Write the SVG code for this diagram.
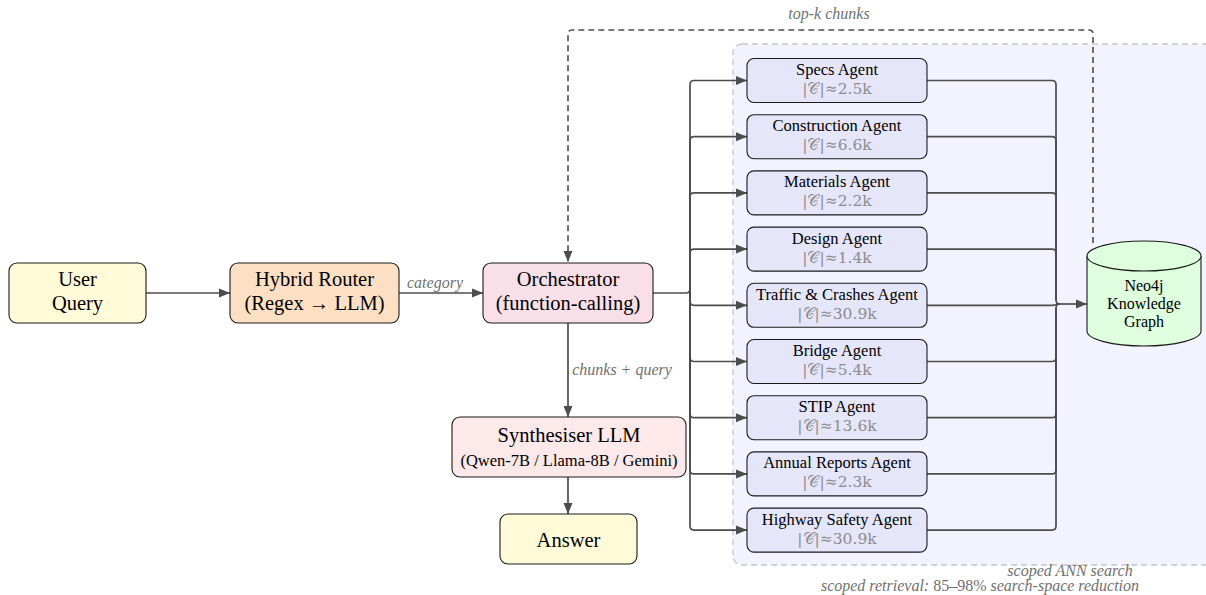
<svg xmlns="http://www.w3.org/2000/svg" width="1206" height="595" viewBox="0 0 1206 595">
<style>
.box{stroke:#1a1a1a;stroke-width:1.1}
.t{font-family:"Liberation Serif","Times New Roman",serif;fill:#000;text-anchor:middle}
.big{font-size:20.5px}
.agent{font-size:16.5px}
.sub{font-family:"DejaVu Serif","Liberation Serif",serif;font-size:15.5px;fill:#8c8c8c;text-anchor:middle}
.lbl{font-family:"Liberation Serif","Times New Roman",serif;font-style:italic;font-size:16px;fill:#707070;text-anchor:middle}
.conn{fill:none;stroke:#4d4d4d;stroke-width:1.7}
.dash{fill:none;stroke:#4d4d4d;stroke-width:1.6;stroke-dasharray:6,4}
.ag{fill:#e6e6fb}
</style>
<defs>
<marker id="ah" markerUnits="userSpaceOnUse" markerWidth="12" markerHeight="10" refX="11" refY="5" orient="auto">
<path d="M0,0.5 L11,5 L0,9.5 z" fill="#4d4d4d"/>
</marker>
</defs>

<g id="region">
<rect x="733" y="44" width="490" height="521" rx="9" fill="#f3f3ff" stroke="#c8c8c8" stroke-width="1.3" stroke-dasharray="6,4"/>
<text class="lbl" x="1070" y="576" font-size="15">scoped ANN search</text>
<text class="lbl" x="980" y="591" font-size="15">scoped retrieval: <tspan font-style="normal">85–98%</tspan> search-space reduction</text>
</g>

<g id="connectors">
<path class="conn" d="M146,293 H230" marker-end="url(#ah)"/>
<path class="conn" d="M399,293 H483" marker-end="url(#ah)"/>
<text class="lbl" x="435" y="288">category</text>
<path class="conn" d="M568,323 V417" marker-end="url(#ah)"/>
<text class="lbl" x="622" y="375">chunks + query</text>
<path class="conn" d="M568,477 V514" marker-end="url(#ah)"/>
<path class="conn" d="M653,293 H686 Q690,293 690,289"/>
<path class="conn" d="M690,293 V84.5 Q690,80.5 694,80.5 H747" marker-end="url(#ah)"/>
<path class="conn" d="M690,293 V140.7 Q690,136.7 694,136.7 H747" marker-end="url(#ah)"/>
<path class="conn" d="M690,293 V196.9 Q690,192.9 694,192.9 H747" marker-end="url(#ah)"/>
<path class="conn" d="M690,293 V253.1 Q690,249.1 694,249.1 H747" marker-end="url(#ah)"/>
<path class="conn" d="M690,293 V301.3 Q690,305.3 694,305.3 H747" marker-end="url(#ah)"/>
<path class="conn" d="M690,293 V357.5 Q690,361.5 694,361.5 H747" marker-end="url(#ah)"/>
<path class="conn" d="M690,293 V413.7 Q690,417.7 694,417.7 H747" marker-end="url(#ah)"/>
<path class="conn" d="M690,293 V469.9 Q690,473.9 694,473.9 H747" marker-end="url(#ah)"/>
<path class="conn" d="M690,293 V526.1 Q690,530.1 694,530.1 H747" marker-end="url(#ah)"/>
<path class="conn" d="M927,80.5 H1052 Q1056,80.5 1056,84.5 V300 Q1056,304 1060,304"/>
<path class="conn" d="M927,136.7 H1052 Q1056,136.7 1056,140.7 V300"/>
<path class="conn" d="M927,192.9 H1052 Q1056,192.9 1056,196.9 V300"/>
<path class="conn" d="M927,249.1 H1052 Q1056,249.1 1056,253.1 V300"/>
<path class="conn" d="M927,305.3 H1052 Q1056,305.3 1056,304"/>
<path class="conn" d="M927,361.5 H1052 Q1056,361.5 1056,357.5 V308 Q1056,304 1060,304"/>
<path class="conn" d="M927,417.7 H1052 Q1056,417.7 1056,413.7 V308"/>
<path class="conn" d="M927,473.9 H1052 Q1056,473.9 1056,469.9 V308"/>
<path class="conn" d="M927,530.1 H1052 Q1056,530.1 1056,526.1 V308"/>
<path class="conn" d="M1056,304 H1087" marker-end="url(#ah)"/>
<path class="dash" d="M1093,243 V34 Q1093,30 1089,30 H572 Q568,30 568,34 V262" marker-end="url(#ah)"/>
<text class="lbl" x="829" y="19">top-k chunks</text>
</g>

<g id="user-query">
<rect class="box" x="9" y="263" width="137" height="60" rx="8" fill="#fffbd8"/>
<text class="t big" x="77.5" y="286">User</text>
<text class="t big" x="77.5" y="310">Query</text>
</g>
<g id="hybrid-router">
<rect class="box" x="230" y="263" width="169" height="60" rx="8" fill="#fde0c4"/>
<text class="t big" x="314.5" y="286">Hybrid Router</text>
<text class="t big" x="314.5" y="310">(Regex → LLM)</text>
</g>
<g id="orchestrator">
<rect class="box" x="483" y="263" width="170" height="60" rx="8" fill="#f8dfe8"/>
<text class="t big" x="568" y="286">Orchestrator</text>
<text class="t big" x="568" y="310">(function-calling)</text>
</g>
<g id="synthesiser">
<rect class="box" x="452" y="417" width="234" height="60" rx="8" fill="#fde8ea"/>
<text class="t big" x="569" y="442">Synthesiser LLM</text>
<text class="t" font-size="16.5" x="569" y="466">(Qwen-7B / Llama-8B / Gemini)</text>
</g>
<g id="answer">
<rect class="box" x="500" y="514" width="137" height="50" rx="8" fill="#fffbd8"/>
<text class="t big" x="568.5" y="547">Answer</text>
</g>

<g id="agent-specs">
<rect class="box ag" x="747" y="58.5" width="180" height="44" rx="7"/>
<text class="t agent" x="837" y="75">Specs Agent</text>
<text class="sub" x="837" y="94">|𝒞|≈2.5k</text>
</g>
<g id="agent-construction">
<rect class="box ag" x="747" y="114.7" width="180" height="44" rx="7"/>
<text class="t agent" x="837" y="131.2">Construction Agent</text>
<text class="sub" x="837" y="150.2">|𝒞|≈6.6k</text>
</g>
<g id="agent-materials">
<rect class="box ag" x="747" y="170.9" width="180" height="44" rx="7"/>
<text class="t agent" x="837" y="187.4">Materials Agent</text>
<text class="sub" x="837" y="206.4">|𝒞|≈2.2k</text>
</g>
<g id="agent-design">
<rect class="box ag" x="747" y="227.1" width="180" height="44" rx="7"/>
<text class="t agent" x="837" y="243.6">Design Agent</text>
<text class="sub" x="837" y="262.6">|𝒞|≈1.4k</text>
</g>
<g id="agent-traffic">
<rect class="box ag" x="747" y="283.3" width="180" height="44" rx="7"/>
<text class="t agent" x="837" y="299.8">Traffic &amp; Crashes Agent</text>
<text class="sub" x="837" y="318.8">|𝒞|≈30.9k</text>
</g>
<g id="agent-bridge">
<rect class="box ag" x="747" y="339.5" width="180" height="44" rx="7"/>
<text class="t agent" x="837" y="356">Bridge Agent</text>
<text class="sub" x="837" y="375">|𝒞|≈5.4k</text>
</g>
<g id="agent-stip">
<rect class="box ag" x="747" y="395.7" width="180" height="44" rx="7"/>
<text class="t agent" x="837" y="412.2">STIP Agent</text>
<text class="sub" x="837" y="431.2">|𝒞|≈13.6k</text>
</g>
<g id="agent-annual">
<rect class="box ag" x="747" y="451.9" width="180" height="44" rx="7"/>
<text class="t agent" x="837" y="468.4">Annual Reports Agent</text>
<text class="sub" x="837" y="487.4">|𝒞|≈2.3k</text>
</g>
<g id="agent-highway">
<rect class="box ag" x="747" y="508.1" width="180" height="44" rx="7"/>
<text class="t agent" x="837" y="524.6">Highway Safety Agent</text>
<text class="sub" x="837" y="543.6">|𝒞|≈30.9k</text>
</g>

<g id="neo4j">
<path class="box" d="M1087,256 V331 A57,15 0 0 0 1201,331 V256" fill="#defede"/>
<ellipse class="box" cx="1144" cy="256" rx="57" ry="15" fill="#defede"/>
<text class="t" font-size="16" x="1144" y="291">Neo4j</text>
<text class="t" font-size="16" x="1144" y="309">Knowledge</text>
<text class="t" font-size="16" x="1144" y="327">Graph</text>
</g>
</svg>
